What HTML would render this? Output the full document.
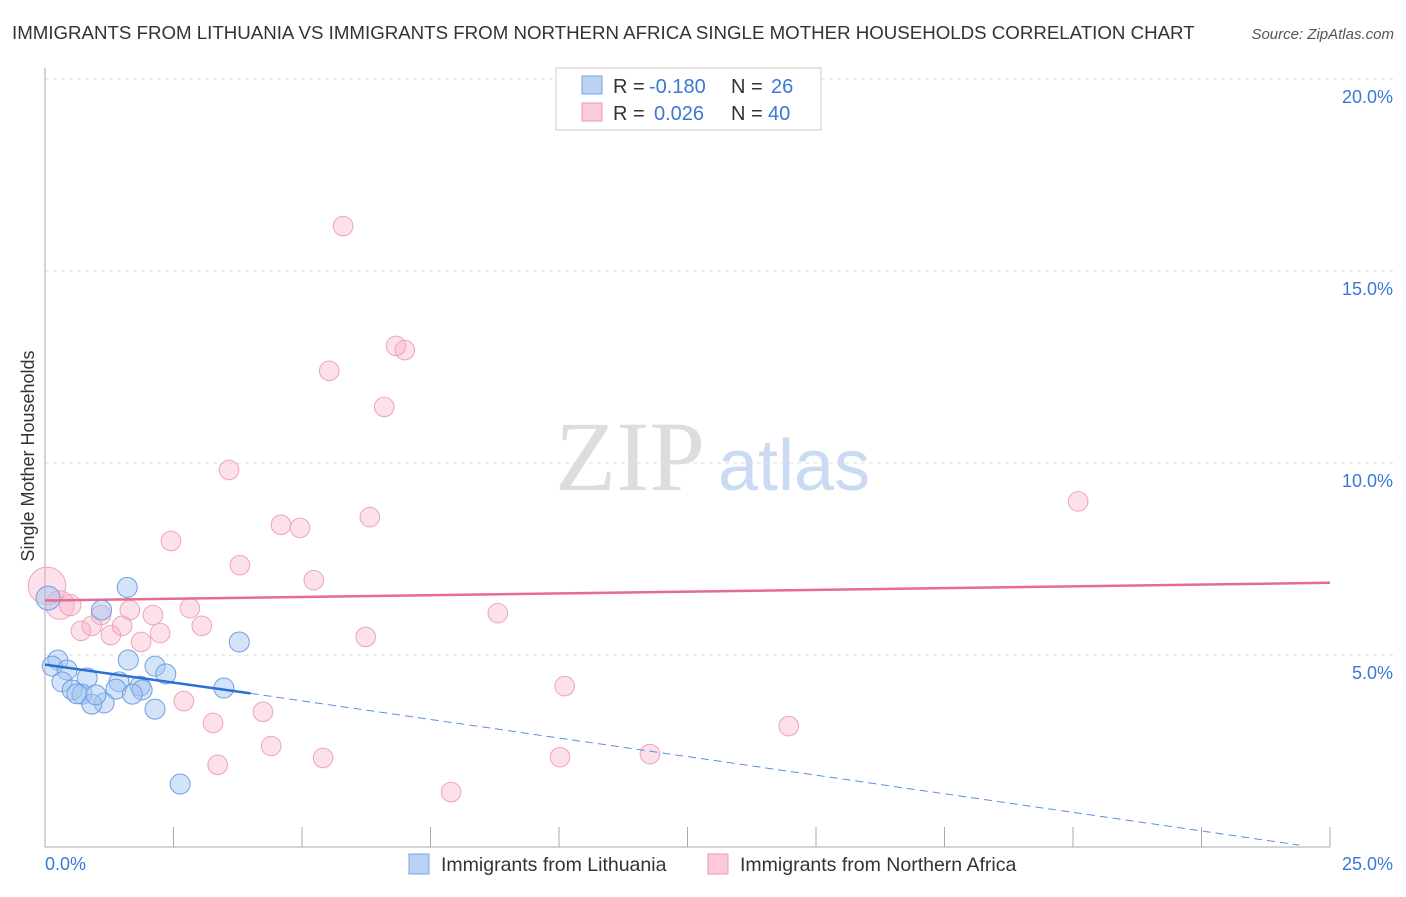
<!DOCTYPE html>
<html><head><meta charset="utf-8">
<style>
body{margin:0;width:1406px;height:892px;background:#fff;font-family:"Liberation Sans",sans-serif;overflow:hidden}
</style></head><body>
<svg id="c" width="1406" height="892" xmlns="http://www.w3.org/2000/svg">
<text x="12" y="39" font-size="18.7" fill="#333">IMMIGRANTS FROM LITHUANIA VS IMMIGRANTS FROM NORTHERN AFRICA SINGLE MOTHER HOUSEHOLDS CORRELATION CHART</text>
<text x="1394" y="39" font-size="15" fill="#555" text-anchor="end" font-style="italic">Source: ZipAtlas.com</text>
<text x="555" y="490" font-size="100" fill="#ddd" font-family="Liberation Serif">ZIP</text>
<text x="718" y="490" font-size="72" fill="#c9daf2">atlas</text>
<text x="34" y="456" font-size="18" fill="#333" text-anchor="middle" transform="rotate(-90 34 456)">Single Mother Households</text>
<g id="grid"></g><g id="marks"></g>
<g>
<rect x="556" y="68" width="265" height="62" fill="#fff" stroke="#ccc"/>
<rect x="582" y="76" width="20" height="18" fill="#b9d3f5" stroke="#7aa6e0"/>
<rect x="582" y="103" width="20" height="18" fill="#fbcbd8" stroke="#eb9ab2"/>
<text y="93" font-size="20" fill="#333"><tspan x="613">R =</tspan><tspan x="649" fill="#3a78d8">-0.180</tspan><tspan x="731">N =</tspan><tspan x="771" fill="#3a78d8">26</tspan></text>
<text y="120" font-size="20" fill="#333"><tspan x="613">R =</tspan><tspan x="654" fill="#3a78d8">0.026</tspan><tspan x="731">N =</tspan><tspan x="768" fill="#3a78d8">40</tspan></text>
</g>
<g>
<rect x="409" y="854" width="20" height="20" fill="#b9d3f5" stroke="#7aa6e0"/>
<text x="441" y="871" font-size="19.5" fill="#333">Immigrants from Lithuania</text>
<rect x="708" y="854" width="20" height="20" fill="#fbcbd8" stroke="#eb9ab2"/>
<text x="740" y="871" font-size="19.5" fill="#333">Immigrants from Northern Africa</text>
</g>
</svg>
<script>
const xTicks=[0,25];
const yTicks=[5,10,15,20];
const blueX=[1.6,0.06,1.1,3.78,0.25,0.14,0.43,0.82,0.33,1.62,2.14,2.35,0.53,1.44,1.85,1.89,1.38,0.72,1.15,0.91,1.7,3.48,2.14,0.62,0.99,2.63];
const blueY=[6.76,6.48,6.17,5.34,4.87,4.71,4.61,4.4,4.3,4.87,4.71,4.51,4.09,4.3,4.19,4.09,4.11,3.98,3.75,3.72,3.98,4.14,3.59,3.99,3.96,1.64];
const pinkX=[0.04,0.29,0.49,1.09,1.65,2.1,2.82,0.7,0.91,1.28,1.5,2.24,1.87,3.05,2.45,3.58,3.79,4.59,4.96,5.23,5.8,5.53,6.83,7.0,6.6,6.32,6.24,8.81,10.11,20.1,2.7,3.27,4.24,3.36,4.4,5.41,7.9,10.02,11.77,14.47];
const pinkY=[6.8,6.3,6.3,6.04,6.17,6.04,6.22,5.63,5.76,5.52,5.76,5.57,5.34,5.76,7.97,9.82,7.34,8.39,8.31,6.95,16.17,12.4,13.05,12.94,11.46,8.59,5.47,6.09,4.19,9.0,3.8,3.23,3.52,2.14,2.63,2.32,1.43,2.34,2.42,3.15];
const pinkSize=[20,15,11,10,10,10,10,10,10,10,10,10,10,10,10,10,10,10,10,10,10,10,10,10,10,10,10,10,10,10,10,10,10,10,10,10,10,10,10,10];
const NS="http://www.w3.org/2000/svg";
const X=v=>45+v*51.4, Y=v=>847-v*38.4;
const g=document.getElementById('grid'), m=document.getElementById('marks');
function el(t,a,p){const e=document.createElementNS(NS,t);for(const k in a)e.setAttribute(k,a[k]);p.appendChild(e);return e;}
yTicks.forEach(t=>{
 const l=el('line',{x1:45,x2:1394,y1:Y(t),y2:Y(t),stroke:'#ddd','stroke-dasharray':'4,4'},g);
 
 
 const tx=el('text',{x:1393,y:Y(t)+24,'font-size':18,fill:'#3a78d8','text-anchor':'end'},g);
 tx.textContent=t.toFixed(1)+'%';
 
 
});
const ax=el('line',{x1:45,x2:45,y1:68,y2:847,stroke:'#aaa'},g);


const bx=el('line',{x1:45,x2:1330,y1:847,y2:847,stroke:'#aaa'},g);


for(let i=0;i<=10;i++){const v=xTicks[0]+i*(xTicks[1]-xTicks[0])/10;
 const t=el('line',{x1:X(v),x2:X(v),y1:827,y2:847,stroke:'#aaa'},g);
 
 }
xTicks.forEach((t,i)=>{const tx=el('text',{x:i?1393:45,y:870,'font-size':18,fill:'#3a78d8','text-anchor':i?'end':'start'},g);
 tx.textContent=t.toFixed(1)+'%';
 
 });
pinkX.forEach((x,i)=>{const c=el('circle',{cx:X(x),cy:Y(pinkY[i]),r:pinkSize[i]*0.9+0.8,fill:'rgba(246,170,195,0.35)',stroke:'#eea4bb','stroke-width':1},m);
 
 });
blueX.forEach((x,i)=>{const c=el('circle',{cx:X(x),cy:Y(blueY[i]),r:(i==1?12:10),fill:'rgba(160,195,240,0.45)',stroke:'#6f9fe0','stroke-width':1},m);
 
 });
const pl=el('line',{x1:X(0),y1:Y(6.42),x2:X(25),y2:Y(6.88),stroke:'#e46b92','stroke-width':2.5},m);


const bl=el('line',{x1:X(0),y1:Y(4.75),x2:X(4),y2:Y(4.0),stroke:'#2a6fd6','stroke-width':2.5},m);


const bd=el('line',{x1:X(4),y1:Y(4.0),x2:X(24.4),y2:Y(0.05),stroke:'#5a8fe0','stroke-width':1,'stroke-dasharray':'8,5'},m);


</script>
</body></html>
